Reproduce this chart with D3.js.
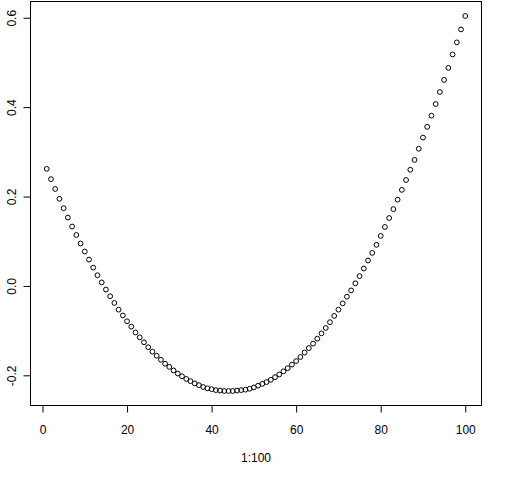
<!DOCTYPE html>
<html><head><meta charset="utf-8">
<script src="https://cdn.jsdelivr.net/npm/d3@7"></script>
<style>body{margin:0;background:#fff}svg{display:block}text{font-family:"Liberation Sans",Arial,sans-serif;font-size:12px;fill:#000}</style>
</head><body>
<svg id="c" width="512" height="480"></svg>
<script>
const xs = d3.range(1, 101);
const yValues = [
 0.263, 0.240, 0.218, 0.196, 0.175, 0.154, 0.134, 0.115, 0.096, 0.078,
 0.060, 0.042, 0.025, 0.009, -0.007, -0.022, -0.037, -0.052, -0.065, -0.078,
 -0.090, -0.103, -0.114, -0.125, -0.136, -0.146, -0.155, -0.164, -0.173, -0.180,
 -0.188, -0.195, -0.201, -0.207, -0.212, -0.217, -0.221, -0.225, -0.228, -0.230,
 -0.232, -0.233, -0.234, -0.234, -0.234, -0.233, -0.232, -0.231, -0.229, -0.226,
 -0.222, -0.218, -0.214, -0.209, -0.203, -0.197, -0.190, -0.183, -0.175, -0.167,
 -0.158, -0.148, -0.138, -0.128, -0.117, -0.105, -0.093, -0.080, -0.066, -0.052,
 -0.038, -0.023, -0.009, 0.007, 0.023, 0.040, 0.058, 0.075, 0.093, 0.113,
 0.133, 0.153, 0.173, 0.194, 0.216, 0.238, 0.261, 0.283, 0.308, 0.333,
 0.357, 0.382, 0.408, 0.435, 0.462, 0.489, 0.519, 0.546, 0.575, 0.605
];
const xTicks = [0, 20, 40, 60, 80, 100];
const yTicks = [-0.2, 0.0, 0.2, 0.4, 0.6];
const yTickLabels = ["-0.2", "0.0", "0.2", "0.4", "0.6"];
const xLabel = "1:100";

const L = 30, R = 482, T = 1, B = 406;
function pad(ext){const r=ext[1]-ext[0];return [ext[0]-0.04*r, ext[1]+0.04*r];}
const x = d3.scaleLinear().domain(pad(d3.extent(xs))).range([L, R]);
const y = d3.scaleLinear().domain(pad(d3.extent(yValues))).range([B, T]);

const svg = d3.select("#c");
svg.append("rect").attr("x", L+0.5).attr("y", T+0.5).attr("width", R-L-1).attr("height", B-T-1)
  .attr("fill","none").attr("stroke","#000").attr("stroke-width",1);

const gx = svg.append("g").attr("transform", `translate(0,${B-0.5})`)
  .call(d3.axisBottom(x).tickValues(xTicks).tickFormat(d3.format("d")).tickSize(7).tickPadding(13));
const gy = svg.append("g").attr("transform", `translate(${L+0.5},0)`)
  .call(d3.axisLeft(y).tickValues(yTicks).tickFormat((d,i) => yTickLabels[i]).tickSize(7).tickPadding(0));
[gx, gy].forEach(g => {
  g.select(".domain").remove();
  g.selectAll("line").attr("stroke","#000");
  g.selectAll("text").attr("font-size",12).attr("font-family",'"Liberation Sans",Arial,sans-serif').attr("fill","#000");
});
gy.selectAll(".tick").attr("transform", null);
gy.selectAll(".tick line").attr("transform", d => `translate(0,${y(d)})`);
gy.selectAll("text").attr("text-anchor","middle").attr("x",0).attr("y",0).attr("dy","0.35em")
  .attr("transform", d => `translate(-19,${y(d)}) rotate(-90)`);

svg.append("text").attr("x", (L+R)/2).attr("y", 462).attr("text-anchor","middle").text(xLabel);

svg.append("g").selectAll("circle").data(xs).join("circle")
  .attr("cx", d => x(d)).attr("cy", (d,i) => y(yValues[i])).attr("r", 2.4)
  .attr("fill","none").attr("stroke","#000").attr("stroke-width",1);
</script>
</body></html>
